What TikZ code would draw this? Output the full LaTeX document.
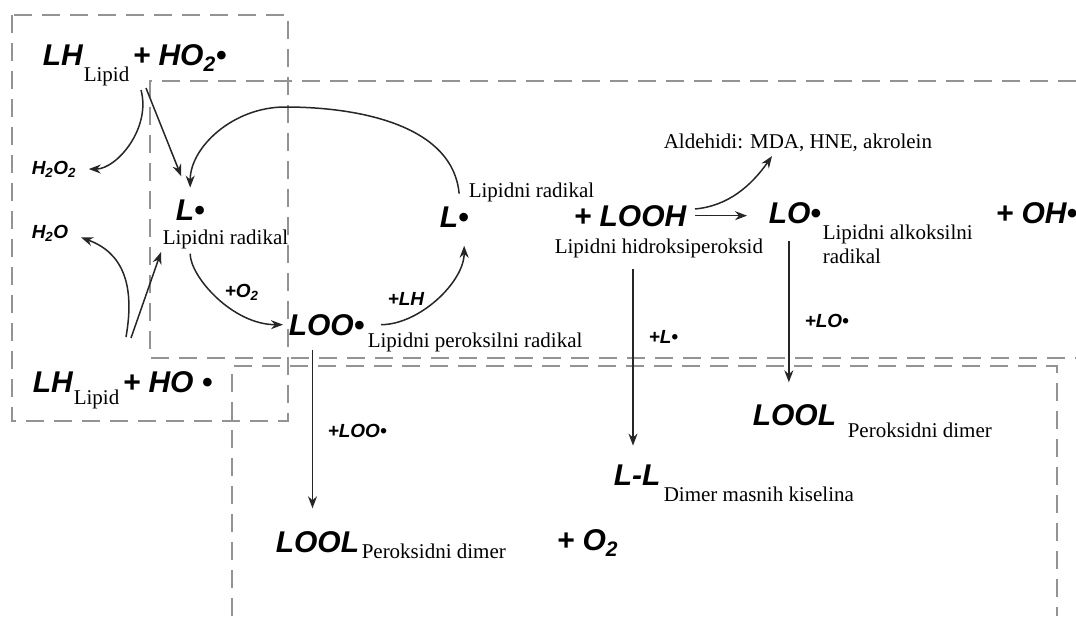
\documentclass[tikz,border=0pt]{standalone}
\usepackage{fontspec}
\setmainfont{Liberation Serif}
\newfontfamily\chemfont{Liberation Sans}
\usetikzlibrary{arrows.meta}

\begin{document}
\begin{tikzpicture}[x=1pt,y=1pt,->,>={Stealth[length=12pt,width=9pt]},line width=1.5pt,draw=black!85,
  chem/.style={font=\chemfont\bfseries\itshape\fontsize{30}{30}\selectfont,inner sep=0pt,anchor=base west},
  reagent/.style={font=\chemfont\bfseries\itshape\fontsize{19}{19}\selectfont,inner sep=0pt,anchor=base west},
  label text/.style={font=\fontsize{21}{24}\selectfont,inner sep=0pt,anchor=base west},
  zone/.style={-,draw=gray!85,line width=1.6pt,dash pattern=on 18pt off 10pt}]
  \useasboundingbox (0,0) rectangle (1076,-616);
  % dashed zones
  \draw[zone] (12,-15) rectangle (288,-421);
  \draw[zone] (1076,-81) -- (150,-81) -- (150,-358) -- (1076,-358);
  \draw[zone] (232,-616) -- (232,-366) -- (1057,-366) -- (1057,-616);
  % initiation
  \node[chem] (lhA) at (42,-65) {LH};
  \node[label text] (lipidA) at (83,-81) {Lipid};
  \node[chem] (ho2) at (132,-65) {+ HO\textsubscript{2}•};
  \node[reagent] (h2o2) at (31,-174) {H\textsubscript{2}O\textsubscript{2}};
  \node[reagent] (h2o) at (31,-238) {H\textsubscript{2}O};
  \node[chem] (lhB) at (32,-392) {LH};
  \node[label text] (lipidB) at (73,-404) {Lipid};
  \node[chem] (ho) at (122,-392) {+ HO •};
  % propagation
  \node[chem] (L1) at (175,-220) {L•};
  \node[label text] (rad1) at (162,-244) {Lipidni radikal};
  \node[reagent] (plusO2) at (224,-297) {+O\textsubscript{2}};
  \node[chem] (LOO) at (288,-335) {LOO•};
  \node[label text] (perox) at (367,-347) {Lipidni peroksilni radikal};
  \node[reagent] (plusLH) at (387,-305) {+LH};
  \node[chem] (L2) at (439,-227) {L•};
  \node[label text] (rad2) at (468,-197) {Lipidni radikal};
  \node[chem] (looh) at (573,-226) {+ LOOH};
  \node[label text] (hidro) at (554,-253) {Lipidni hidroksiperoksid};
  \node[label text] (ald) at (663,-148) {Aldehidi: MDA, HNE, akrolein};
  \node[chem] (LO) at (768,-223) {LO•};
  \node[label text,anchor=north west,align=left] (alk) at (822,-224) {Lipidni alkoksilni\\radikal};
  \node[chem] (oh) at (995,-223) {+ OH•};
  % termination
  \node[reagent] (plusLO) at (804,-327) {+LO•};
  \node[reagent] (plusL) at (648,-343) {+L•};
  \node[chem] (LOOLb) at (752,-425) {LOOL};
  \node[label text] (dimB) at (847,-437) {Peroksidni dimer};
  \node[chem] (LL) at (613,-485) {L-L};
  \node[label text] (dimLL) at (663,-501) {Dimer masnih kiselina};
  \node[reagent] (plusLOO) at (327,-437) {+LOO•};
  \node[chem] (LOOLa) at (275,-552) {LOOL};
  \node[label text] (dimA) at (361,-558) {Peroksidni dimer};
  \node[chem] (o2) at (556,-550) {+ O\textsubscript{2}};

  \coordinate (forkA) at (141,-90);
  \coordinate (forkB) at (146,-88);
  \coordinate (forkC) at (126,-337);
  \coordinate (forkD) at (131,-338);
  \coordinate (arctop) at (285,-107);

  \path
    (forkA) edge[out=-75,in=0,shorten >=12pt] (h2o2.east)
    (forkB) edge[shorten >=24pt] (L1.north)
    (forkC) edge[out=80,in=-20,looseness=1.2,shorten >=13pt] (h2o.east)
    (forkD) edge[shorten >=3pt] (rad1.south west)
    (L1.south) edge[out=-90,in=180,shorten <=33pt,shorten >=5pt] (LOO.west)
    (LOO.east) edge[out=0,in=-90,shorten <=16pt,shorten >=18pt] ([xshift=10pt]L2.south)
    (looh.east) edge[shorten <=8pt,shorten >=21pt] (looh.east -| LO.west)
    ([yshift=6pt]looh.east) edge[out=5,in=-125,shorten <=8pt,shorten >=5pt] ([xshift=-23pt]ald.south)
    ([xshift=-6pt]LO.south) edge[shorten <=17pt,shorten >=21pt] ([xshift=-6pt]LO.south |- LOOLb.north)
    ([xshift=3pt]looh.south) edge[shorten <=42pt,shorten >=18pt] ([xshift=3pt]looh.south |- LL.north)
    ([xshift=-14pt]LOO.south) edge[shorten <=14pt,shorten >=22pt] ([xshift=-14pt]LOO.south |- LOOLa.north);
  \draw[shorten <=12pt,shorten >=11pt] ([xshift=6pt]L2.north) to[out=95,in=0] (arctop) to[out=180,in=90] (L1.north);
\end{tikzpicture}
\end{document}
